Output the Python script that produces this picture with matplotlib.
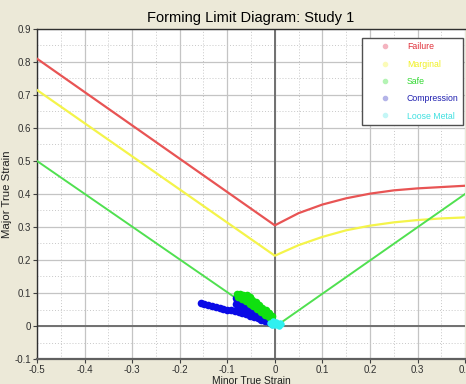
import matplotlib
matplotlib.use("Agg")
import matplotlib.pyplot as plt
from matplotlib.lines import Line2D
from matplotlib.ticker import MultipleLocator, FuncFormatter

plt.rcParams['font.family'] = ['Liberation Sans', 'DejaVu Sans']

# forming limit curves (minor strain, major strain)
fail_x = [-0.5, 0.0, 0.05, 0.1, 0.15, 0.2, 0.25, 0.3, 0.35, 0.4]
fail_y = [0.81, 0.305, 0.342, 0.368, 0.387, 0.401, 0.411, 0.417, 0.421, 0.425]
marg_x = [-0.5, 0.0, 0.05, 0.1, 0.15, 0.2, 0.25, 0.3, 0.35, 0.4]
marg_y = [0.715, 0.213, 0.245, 0.270, 0.290, 0.304, 0.314, 0.321, 0.326, 0.329]
safe_x = [-0.5, 0.003, 0.4]
safe_y = [0.50, 0.0, 0.40]

# measured strain points by zone
comp_x = [-0.155, -0.148, -0.140, -0.132, -0.124, -0.116, -0.108, -0.100, -0.092,
          -0.084, -0.076, -0.068, -0.060, -0.052, -0.044, -0.036, -0.028, -0.020,
          -0.012, -0.006,
          -0.081, -0.080, -0.082, -0.076, -0.072, -0.070, -0.064, -0.060, -0.056,
          -0.050, -0.046, -0.040, -0.036, -0.030, -0.024, -0.018, -0.012, -0.060,
          -0.050, -0.040, -0.030, -0.070, -0.078]
comp_y = [0.071, 0.068, 0.065, 0.062, 0.059, 0.056, 0.053, 0.050, 0.047,
          0.044, 0.041, 0.038, 0.035, 0.031, 0.027, 0.023, 0.019, 0.015,
          0.011, 0.006,
          0.085, 0.077, 0.068, 0.078, 0.072, 0.064, 0.066, 0.057, 0.060,
          0.052, 0.051, 0.043, 0.042, 0.034, 0.030, 0.023, 0.017, 0.046,
          0.040, 0.033, 0.027, 0.053, 0.059]
safe_pts_x = [-0.080, -0.073, -0.066, -0.059, -0.053, -0.047, -0.040, -0.033, -0.026,
              -0.019, -0.012, -0.006,
              -0.077, -0.069, -0.061, -0.053, -0.045, -0.037, -0.029, -0.021, -0.013,
              -0.005]
safe_pts_y = [0.097, 0.097, 0.095, 0.093, 0.087, 0.080, 0.072, 0.064, 0.056,
              0.048, 0.039, 0.030,
              0.089, 0.083, 0.076, 0.068, 0.060, 0.051, 0.043, 0.034, 0.026,
              0.017]
loose_x = [-0.010, -0.005, 0.000, 0.005, 0.010, 0.002, -0.004, 0.013, 0.008]
loose_y = [0.008, 0.004, 0.002, 0.006, 0.010, 0.013, 0.014, 0.005, 0.001]

labels = ['Failure', 'Marginal', 'Safe', 'Compression', 'Loose Metal']
text_colors = ['#e0303a', '#f0f020', '#30d830', '#2020b0', '#40e0e0']
legend_dots = ['#f4b4c0', '#fbfbb8', '#b4f4b4', '#b4b4e8', '#c4f6f6']

fig = plt.figure(figsize=(4.66, 3.84), dpi=100, facecolor='#ece9d8')
ax = fig.add_axes([0.0794, 0.0651, 0.9186, 0.8594])
ax.set_facecolor('white')

ax.set_xlim(-0.5, 0.4)
ax.set_ylim(-0.1, 0.9)
ax.xaxis.set_major_locator(MultipleLocator(0.1))
ax.yaxis.set_major_locator(MultipleLocator(0.1))
ax.xaxis.set_minor_locator(MultipleLocator(0.05))
ax.yaxis.set_minor_locator(MultipleLocator(0.05))

def strain_fmt(v, pos):
    v = round(v, 2)
    return '0' if v == 0 else f'{v:g}'

ax.xaxis.set_major_formatter(FuncFormatter(strain_fmt))
ax.yaxis.set_major_formatter(FuncFormatter(strain_fmt))

ax.grid(which='major', color='#c4c4c4', lw=0.9, ls='-')
ax.grid(which='minor', color='#c8c8c8', lw=0.7, ls=(0, (1, 2)))
ax.tick_params(which='minor', length=0)
ax.tick_params(which='major', length=3, width=0.8, color='#404040',
               labelsize=7, labelcolor='#303030', pad=1)
ax.set_axisbelow(True)

ax.axhline(0, color='#707070', lw=1.4, zorder=1)
ax.axvline(0, color='#707070', lw=1.4, zorder=1)

for sp in ['left', 'bottom', 'top']:
    ax.spines[sp].set_color('#303030')
    ax.spines[sp].set_linewidth(1.0)
ax.spines['bottom'].set_color('#606060')
ax.spines['bottom'].set_linewidth(1.6)
ax.spines['right'].set_visible(False)

ax.plot(fail_x, fail_y, color='#e85454', lw=1.6, zorder=3)
ax.plot(marg_x, marg_y, color='#f4f44a', lw=1.6, zorder=3)
ax.plot(safe_x, safe_y, color='#50e050', lw=1.4, zorder=3)

ax.scatter(comp_x, comp_y, s=30, color='#0a0ae6', lw=0, zorder=4)
ax.scatter(safe_pts_x, safe_pts_y, s=30, color='#10e010', lw=0, zorder=4)
ax.scatter(loose_x, loose_y, s=22, color='#30f0f0', lw=0, zorder=5)

ax.set_title('Forming Limit Diagram: Study 1', fontsize=10.5, pad=5)
ax.set_xlabel('Minor True Strain', fontsize=7.4, labelpad=1, color='#202020')
ax.set_ylabel('Major True Strain', fontsize=8.2, color='#202020')
ax.yaxis.set_label_coords(-0.058, 0.5)

handles = [Line2D([], [], ls='none', marker='o', ms=3, color=c) for c in legend_dots]
leg = ax.legend(handles, labels, loc='upper right', fontsize=6.3, frameon=True,
                fancybox=False, edgecolor='#505050', framealpha=1,
                borderpad=0.5, labelspacing=0.95, handlelength=4.3,
                handletextpad=0.3, borderaxespad=0,
                bbox_to_anchor=(0.995, 0.973))
leg.get_frame().set_linewidth(1.0)
for t, c in zip(leg.get_texts(), text_colors):
    t.set_color(c)

fig.savefig('out.png', dpi=100, facecolor=fig.get_facecolor())
